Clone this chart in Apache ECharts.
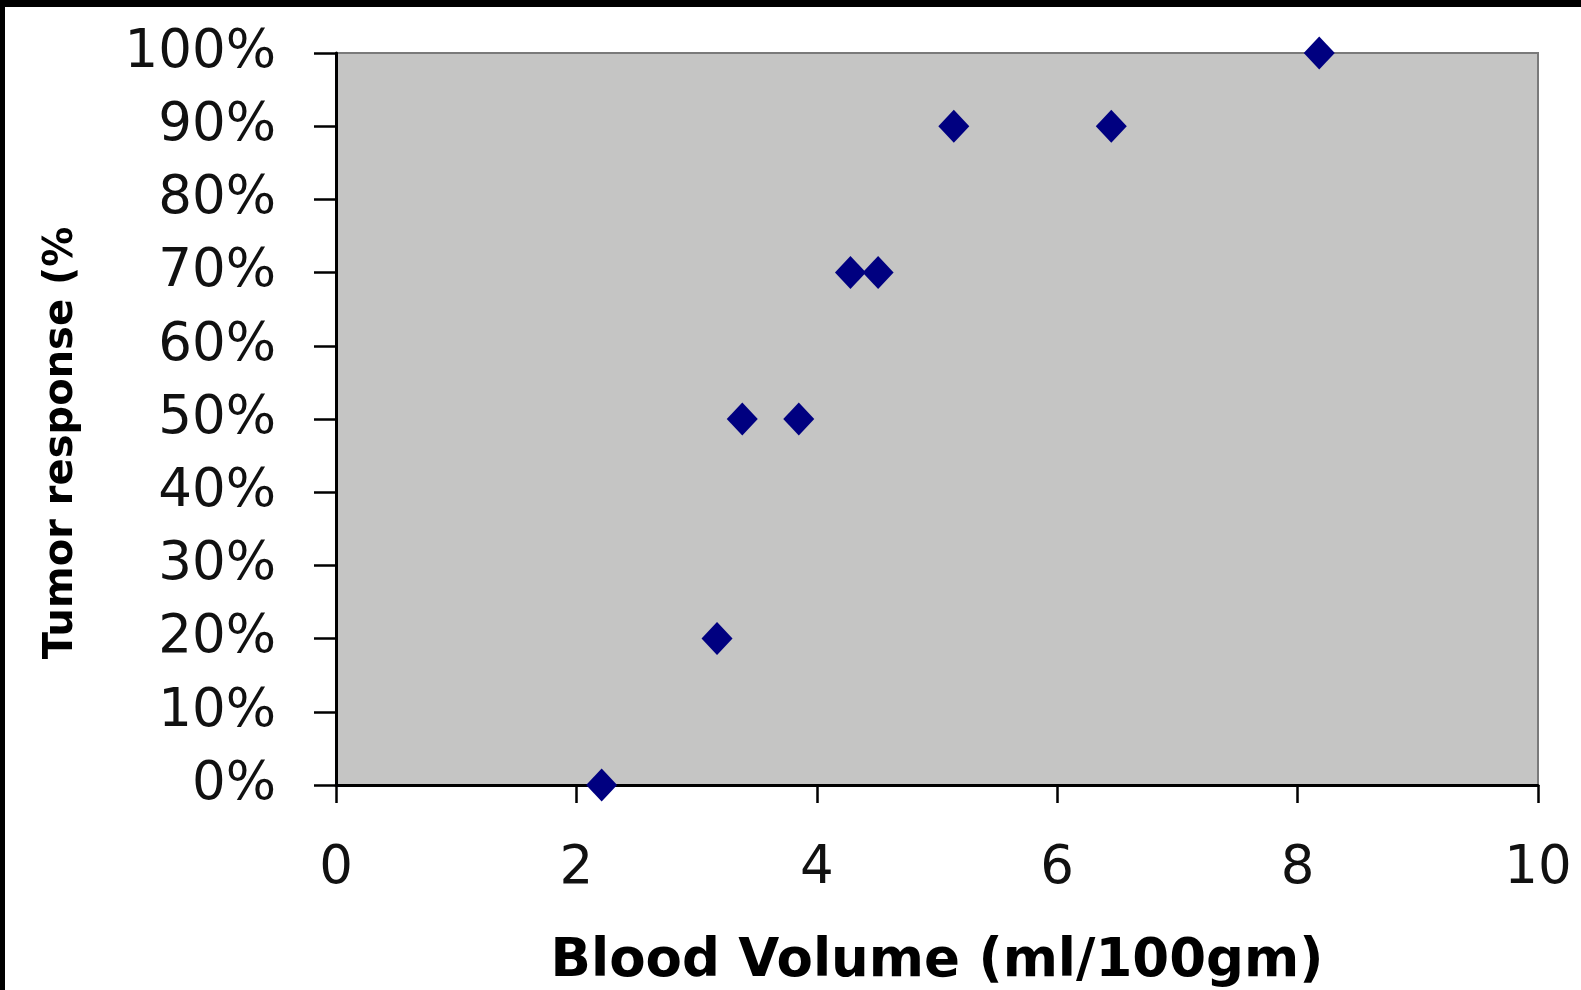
<!DOCTYPE html>
<html>
<head>
<meta charset="utf-8">
<title>Tumor response vs blood volume</title>
<script src="https://cdn.jsdelivr.net/npm/echarts@6/dist/echarts.min.js"></script>
<style>
  html, body { margin: 0; padding: 0; background: #000; width: 1581px; height: 990px; overflow: hidden; }
  #chart { position: absolute; left: 5px; top: 7px; width: 1576px; height: 983px; background: #fff; }
</style>
</head>
<body>
<div id="chart"></div>
<script>
// Blood volume (ml/100gm) per tumor
const bloodVolume = [2.21, 3.17, 3.38, 3.85, 4.28, 4.51, 5.14, 6.45, 8.18];
// Tumor response (%) per tumor
const tumorResponse = [0, 20, 50, 50, 70, 70, 90, 90, 100];
// Axis ranges and steps
const xTicks = { min: 0, max: 10, interval: 2 };
const yTicks = { min: 0, max: 100, interval: 10 };

const points = bloodVolume.map((v, i) => [v, tumorResponse[i]]);

const chart = echarts.init(document.getElementById('chart'));
chart.setOption({
  animation: false,
  backgroundColor: '#ffffff',
  grid: {
    left: 331, right: 43, top: 46, bottom: 205,
    outerBoundsMode: 'none',
    containLabel: false,
    show: true,
    backgroundColor: '#c5c5c4',
    borderColor: '#7a7a7a',
    borderWidth: 2
  },
  xAxis: {
    type: 'value',
    min: xTicks.min, max: xTicks.max, interval: xTicks.interval,
    name: 'Blood Volume (ml/100gm)',
    nameLocation: 'middle',
    nameGap: 151,
    nameTextStyle: { fontFamily: 'DejaVu Sans', fontWeight: 'bold', fontSize: 53, color: '#000' },
    axisLine: { show: true, lineStyle: { color: '#000', width: 3 } },
    axisTick: { show: true, inside: false, length: 18, lineStyle: { color: '#000', width: 2.5 } },
    axisLabel: { margin: 58, fontFamily: 'DejaVu Sans', fontSize: 53, color: '#111' },
    splitLine: { show: false }
  },
  yAxis: {
    type: 'value',
    min: yTicks.min, max: yTicks.max, interval: yTicks.interval,
    name: 'Tumor response (%',
    nameLocation: 'middle',
    nameGap: 254,
    nameTextStyle: { fontFamily: 'DejaVu Sans', fontWeight: 'bold', fontSize: 40, color: '#000', padding: [0, 48, 0, 0] },
    axisLine: { show: true, lineStyle: { color: '#000', width: 3 } },
    axisTick: { show: true, inside: false, length: 22, lineStyle: { color: '#000', width: 2.5 } },
    axisLabel: { margin: 60, fontFamily: 'DejaVu Sans', fontSize: 53, color: '#111', formatter: '{value}%' },
    splitLine: { show: false }
  },
  series: [{
    type: 'scatter',
    data: points,
    symbol: 'diamond',
    symbolSize: [31, 33],
    itemStyle: { color: '#000080', opacity: 1 },
    clip: false,
    z: 5
  }]
});
</script>
</body>
</html>
